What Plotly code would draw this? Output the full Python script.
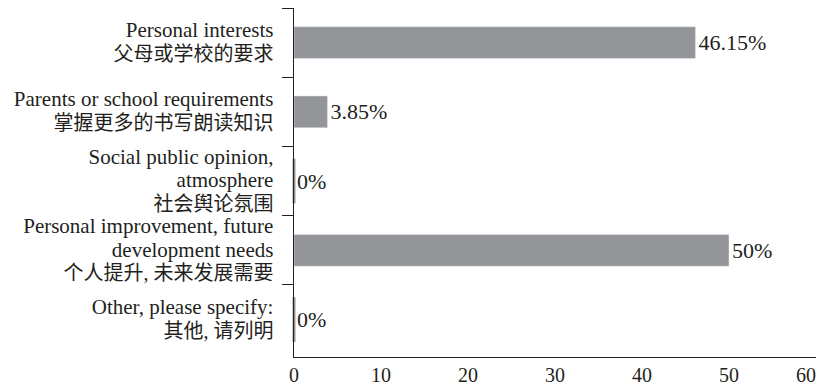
import plotly.graph_objects as go

english = ["Personal interests", "Parents or school requirements",
           "Social public opinion,<br>atmosphere",
           "Personal improvement, future<br>development needs",
           "Other, please specify:"]
chinese = ["父母或学校的要求", "掌握更多的书写朗读知识", "社会舆论氛围",
           "个人提升, 未来发展需要", "其他, 请列明"]
values = [46.15, 3.85, 0, 50, 0]
value_labels = ["46.15%", "3.85%", "0%", "50%", "0%"]
x_ticks = [0, 10, 20, 30, 40, 50, 60]


def styled(txt, size):
    # each line gets its own span so the base font only sets line spacing
    return "<br>".join('<span style="font-size:%dpx">%s</span>' % (size, part)
                       for part in txt.split("<br>"))


labels = [styled(e, 21) + "<br>" + styled(c, 20) for e, c in zip(english, chinese)]
# last tick label sits at the page edge, nudge it inward like the original
x_ticktext = [str(t) for t in x_ticks]
x_ticktext[-1] = x_ticktext[-1] + "&nbsp;" * 4

font_family = "Liberation Serif, Noto Sans CJK SC, serif"
ink = "#231f20"
bar_grey = "#939598"

fig = go.Figure(go.Bar(
    x=values, y=labels, orientation="h",
    marker=dict(color=bar_grey),
    text=value_labels, textposition="outside", cliponaxis=False,
    textfont=dict(family=font_family, size=22, color=ink),
))

# zero-valued bars show as a thin sliver in the original
zero_y = [lab for lab, v in zip(labels, values) if v == 0]
fig.add_trace(go.Scatter(
    x=[0] * len(zero_y), y=zero_y, mode="markers", cliponaxis=False,
    marker=dict(symbol="line-ns", size=32, line=dict(color=bar_grey, width=3)),
    hoverinfo="skip",
))

fig.update_layout(
    width=818, height=384,
    margin=dict(l=294, r=2, t=8, b=27),
    plot_bgcolor="white", paper_bgcolor="white",
    bargap=0.54, showlegend=False,
    font=dict(family=font_family, size=20, color=ink),
)
fig.update_xaxes(range=[0, 60], tickvals=x_ticks, ticktext=x_ticktext,
                 showgrid=False, zeroline=False, ticklabeloverflow="allow",
                 showline=True, linecolor=ink, linewidth=1, ticks="", ticklen=2,
                 tickfont=dict(size=20), automargin=False)
fig.update_yaxes(autorange="reversed", showgrid=False, showline=True,
                 linecolor=ink, linewidth=1, ticks="outside", tickson="boundaries",
                 ticklen=11, tickcolor=ink, tickwidth=1, ticklabelstandoff=16,
                 tickfont=dict(size=18), automargin=False)

fig.write_html("out.html", config={"displayModeBar": False},
               post_script="document.body.style.margin = '0';")
